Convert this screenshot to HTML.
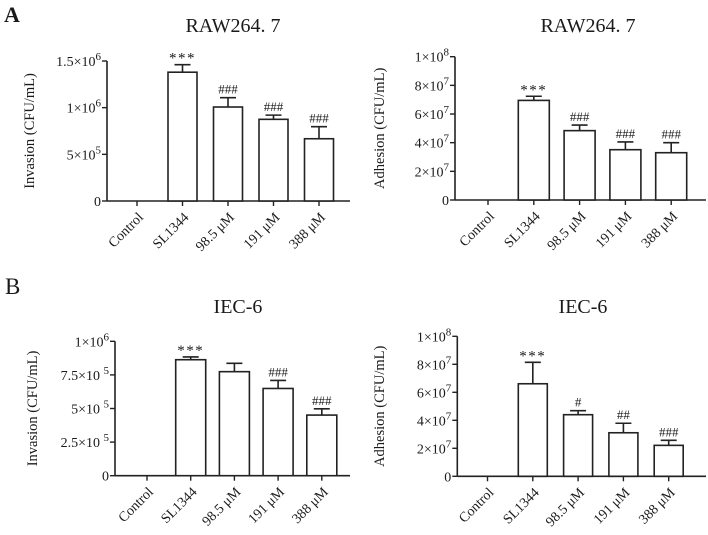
<!DOCTYPE html>
<html><head><meta charset="utf-8"><style>
body{margin:0;background:#fff}
svg text{font-family:"Liberation Serif",serif;fill:#1a1a1a}
</style></head><body>
<svg id="fig" width="708" height="530" viewBox="0 0 708 530" xmlns="http://www.w3.org/2000/svg">
<text x="4" y="22" font-size="22" font-weight="bold">A</text>
<text x="5" y="294" font-size="23">B</text>
</svg>
<script>
const categories=["Control","SL1344","98.5 μM","191 μM","388 μM"];
const invRawValues=[0,1.38e6,1.007e6,0.875e6,0.667e6];
const invRawErr=[0,1.46e6,1.107e6,0.92e6,0.796e6];
const invRawMarks=["","***","###","###","###"];
const adhRawValues=[0,6.95e7,4.84e7,3.51e7,3.3e7];
const adhRawErr=[0,7.24e7,5.23e7,4.05e7,4.0e7];
const adhRawMarks=["","***","###","###","###"];
const invIecValues=[0,8.63e5,7.74e5,6.49e5,4.51e5];
const invIecErr=[0,8.84e5,8.36e5,7.09e5,4.98e5];
const invIecMarks=["","***","","###","###"];
const adhIecValues=[0,6.61e7,4.4e7,3.11e7,2.21e7];
const adhIecErr=[0,8.14e7,4.69e7,3.79e7,2.57e7];
const adhIecMarks=["","***","#","##","###"];
const invRawTicks=[0,5e5,1e6,1.5e6];
const invRawTickLabels=[["0",""],["5×10","5"],["1×10","6"],["1.5×10","6"]];
const adhTicks=[0,2e7,4e7,6e7,8e7,1e8];
const adhTickLabels=[["0",""],["2×10","7"],["4×10","7"],["6×10","7"],["8×10","7"],["1×10","8"]];
const invIecTicks=[0,2.5e5,5e5,7.5e5,1e6];
const invIecTickLabels=[["0",""],["2.5×10 ","5"],["5×10 ","5"],["7.5×10 ","5"],["1×10","6"]];

const svg=document.getElementById('fig');
const NS="http://www.w3.org/2000/svg";
function mk(tag,attrs,parent){const e=document.createElementNS(NS,tag);for(const k in attrs)e.setAttribute(k,attrs[k]);(parent||svg).appendChild(e);return e;}

function panel(id,cfg,vals,errs,marks,ticks,tickLabels){
  const g=mk('g',{});
  
  
  const y=v=>cfg.y0-(v/cfg.max)*(cfg.y0-cfg.yTop);
  const x=i=>cfg.c0+i*cfg.step;
  const t=mk('text',{x:cfg.tx,y:cfg.ty,'font-size':20,'text-anchor':'middle'},g);t.textContent=cfg.title;
  
  
  const yt=mk('text',{transform:`translate(${cfg.ytx},${(cfg.y0+cfg.yTop)/2}) rotate(-90)`,'font-size':14.5,'text-anchor':'middle'},g);yt.textContent=cfg.ylabel;
  
  
  const ya=mk('line',{x1:cfg.ax,x2:cfg.ax,y1:cfg.yTop,y2:cfg.y0,stroke:'#222','stroke-width':1.6},g);
  
  
  const xa=mk('line',{x1:cfg.ax,x2:cfg.xEnd,y1:cfg.y0,y2:cfg.y0,stroke:'#222','stroke-width':1.6},g);
  
  
  ticks.forEach((v,i)=>{
    mk('line',{x1:cfg.ax-5,x2:cfg.ax,y1:y(v),y2:y(v),stroke:'#222','stroke-width':1.4},g);
    const tl=mk('text',{x:cfg.ax-6,y:y(v)+5,'font-size':14,'text-anchor':'end'},g);
    
    
    tl.textContent=tickLabels[i][0];
    if(tickLabels[i][1]){const s=mk('tspan',{dy:-6,'font-size':11},tl);s.textContent=tickLabels[i][1];}
  });
  categories.forEach((c,i)=>{
    mk('line',{x1:x(i),x2:x(i),y1:cfg.y0,y2:cfg.y0+5,stroke:'#222','stroke-width':1.4},g);
    const lx=x(i)+7,ly=cfg.y0+17;
    const l=mk('text',{x:lx,y:ly,'font-size':14,'text-anchor':'end',transform:`rotate(-45 ${lx} ${ly})`},g);
    l.textContent=c;
    
    
    if(vals[i]>0){
      const b=mk('rect',{x:x(i)-cfg.bw/2,y:y(vals[i]),width:cfg.bw,height:cfg.y0-y(vals[i]),fill:'#fff',stroke:'#222','stroke-width':1.6},g);
      
      
      const e=mk('path',{d:`M${x(i)} ${y(vals[i])}V${y(errs[i])}M${x(i)-8} ${y(errs[i])}H${x(i)+8}`,stroke:'#222','stroke-width':1.6,fill:'none'},g);
      
      
    }
    if(marks[i]){
      const star=marks[i][0]==='*';
      const m=mk('text',{x:x(i),y:y(errs[i])-(star?2:4),'font-size':star?15:13,'text-anchor':'middle','letter-spacing':star?1.5:0},g);
      m.textContent=marks[i];
      
      
    }
  });
}
panel('invasion-raw',{ax:107,y0:201,yTop:61,max:1.5e6,xEnd:350,c0:137,step:45.5,bw:29,tx:233,ty:32,ytx:34,title:'RAW264. 7',ylabel:'Invasion (CFU/mL)'},invRawValues,invRawErr,invRawMarks,invRawTicks,invRawTickLabels);
panel('adhesion-raw',{ax:455,y0:200,yTop:56.7,max:1e8,xEnd:706,c0:488,step:45.8,bw:31,tx:588,ty:32,ytx:384,title:'RAW264. 7',ylabel:'Adhesion (CFU/mL)'},adhRawValues,adhRawErr,adhRawMarks,adhTicks,adhTickLabels);
panel('invasion-iec',{ax:115,y0:475.7,yTop:341.3,max:1e6,xEnd:350,c0:147,step:43.7,bw:30,tx:238,ty:313,ytx:37,title:'IEC-6',ylabel:'Invasion (CFU/mL)'},invIecValues,invIecErr,invIecMarks,invIecTicks,invIecTickLabels);
panel('adhesion-iec',{ax:457.3,y0:476.3,yTop:336.3,max:1e8,xEnd:706,c0:487.5,step:45.3,bw:29,tx:583,ty:313,ytx:384,title:'IEC-6',ylabel:'Adhesion (CFU/mL)'},adhIecValues,adhIecErr,adhIecMarks,adhTicks,adhTickLabels);
</script>
</body></html>
